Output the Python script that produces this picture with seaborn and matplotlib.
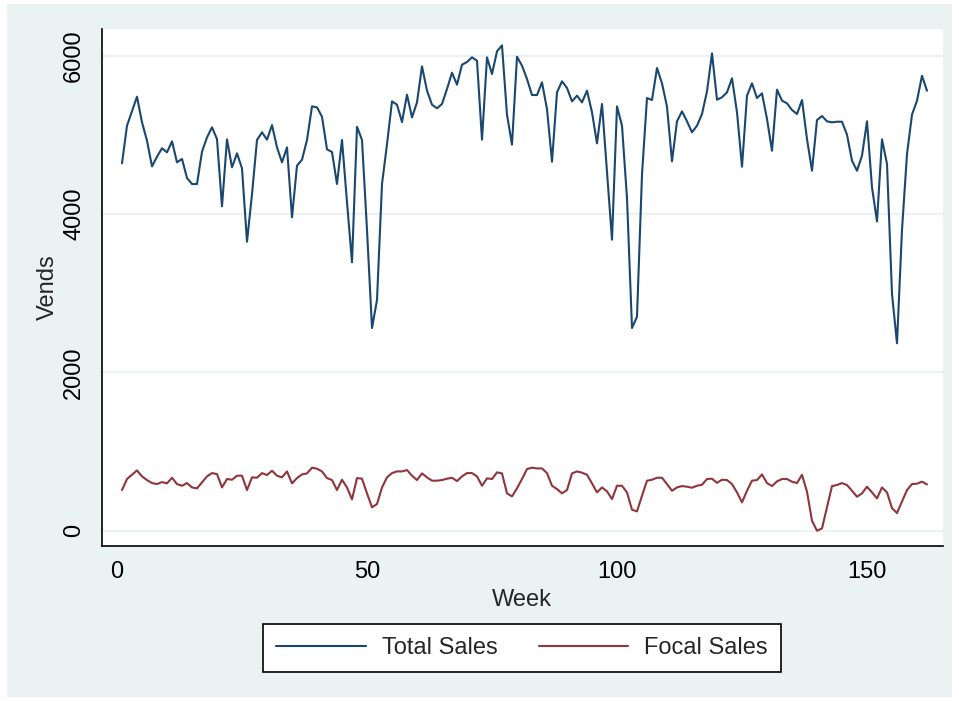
import numpy as np
import pandas as pd
import seaborn as sns
import matplotlib
matplotlib.use("Agg")
import matplotlib.pyplot as plt
from matplotlib.patches import Rectangle

# ---- data ----
total_sales = [
    4640, 5116, 5297, 5482, 5158, 4926, 4602, 4724, 4830, 4779,
    4918, 4653, 4695, 4455, 4379, 4379, 4787, 4968, 5095, 4947,
    4097, 4943, 4590, 4766, 4577, 3650, 4250, 4935, 5032, 4939,
    5124, 4842, 4653, 4842, 3958, 4611, 4686, 4935, 5360, 5347,
    5229, 4817, 4783, 4379, 4935, 4150, 3390, 5103, 4935, 3800,
    2560, 2914, 4379, 4880, 5423, 5381, 5162, 5507, 5221, 5410,
    5865, 5558, 5381, 5335, 5390, 5579, 5785, 5634, 5886, 5920,
    5979, 5937, 4939, 5979, 5768, 6055, 6130, 5255, 4876, 5987,
    5874, 5705, 5503, 5503, 5663, 5326, 4661, 5537, 5676, 5592,
    5423, 5495, 5410, 5558, 5284, 4893, 5390, 4530, 3676, 5360,
    5116, 4200, 2560, 2703, 4500, 5465, 5440, 5844, 5651, 5356,
    4665, 5171, 5297, 5171, 5032, 5116, 5263, 5550, 6029, 5444,
    5474, 5537, 5714, 5284, 4598, 5495, 5651, 5465, 5524, 5200,
    4800, 5571, 5432, 5398, 5314, 5263, 5440, 4947, 4547, 5187,
    5238, 5171, 5158, 5166, 5166, 5002, 4674, 4547, 4737, 5171,
    4337, 3907, 4943, 4632, 2990, 2367, 3800, 4758, 5255, 5432,
    5747, 5557,
]
focal_sales = [
    514, 653, 707, 762, 686, 640, 602, 589, 615, 598,
    669, 589, 568, 602, 547, 535, 610, 686, 728, 716,
    547, 653, 644, 695, 695, 514, 674, 669, 728, 703,
    758, 695, 674, 749, 598, 665, 711, 724, 796, 783,
    749, 665, 640, 514, 644, 547, 396, 665, 657, 472,
    295, 337, 547, 674, 728, 749, 749, 766, 695, 640,
    724, 674, 632, 632, 640, 657, 669, 627, 686, 728,
    728, 686, 568, 661, 653, 737, 724, 472, 434, 535,
    653, 779, 796, 787, 787, 728, 568, 526, 472, 514,
    724, 749, 733, 707, 598, 484, 547, 497, 400, 568,
    568, 484, 265, 244, 442, 632, 644, 669, 669, 589,
    505, 547, 564, 556, 543, 568, 581, 653, 657, 605,
    644, 640, 589, 484, 358, 505, 632, 640, 711, 602,
    564, 623, 653, 653, 619, 602, 707, 493, 126, 0,
    29, 295, 564, 577, 602, 577, 505, 429, 472, 556,
    484, 408, 547, 484, 286, 223, 370, 514, 589, 594,
    620, 585,
]
weeks = list(range(1, len(total_sales) + 1))
series_names = ["Total Sales", "Focal Sales"]
x_ticks = [0, 50, 100, 150]
y_ticks = [0, 2000, 4000, 6000]

df = pd.DataFrame({
    "Week": weeks + weeks,
    "Vends": total_sales + focal_sales,
    "Series": [series_names[0]] * len(weeks) + [series_names[1]] * len(weeks),
})

# ---- style ----
sns.set_style("white")
plt.rcParams["font.family"] = ["Liberation Sans", "DejaVu Sans"]
BG = "#EAF2F3"
NAVY = "#1A476F"
MAROON = "#90353B"
FS = 17

W, H = 959, 701
fig = plt.figure(figsize=(W / 100, H / 100), dpi=100, facecolor="white")
fig.patches.append(Rectangle((7 / W, 1 - 697 / H), (952 - 7) / W, (697 - 4) / H,
                             transform=fig.transFigure, facecolor=BG,
                             edgecolor="none", zorder=-10))

ax = fig.add_axes([101.7 / W, 1 - 546 / H, (943 - 101.7) / W, (546 - 29) / H])
ax.set_facecolor("white")

for yv in y_ticks:
    ax.axhline(yv, color=BG, lw=1.6, zorder=0)

sns.lineplot(data=df, x="Week", y="Vends", hue="Series", hue_order=series_names,
             palette=[NAVY, MAROON], linewidth=1.5, ax=ax, legend=True)

ax.set_xlim(-3.06, 165.2)
ax.set_ylim(-193, 6337)
ax.set_xticks(x_ticks)
ax.set_yticks(y_ticks)
ax.set_yticklabels([str(v) for v in y_ticks], rotation=90, va="center")

for s in ["top", "right"]:
    ax.spines[s].set_visible(False)
for s in ["left", "bottom"]:
    ax.spines[s].set_color("black")
    ax.spines[s].set_linewidth(1.2)

ax.tick_params(axis="both", direction="out", length=7, width=1.1, color="black",
               labelsize=FS, labelcolor="black")
ax.tick_params(axis="x", pad=4)
ax.tick_params(axis="y", pad=5)

ax.set_xlabel("Week", fontsize=FS, labelpad=4)
ax.set_ylabel("Vends", fontsize=FS, labelpad=3)

handles, labels = ax.get_legend_handles_labels()
ax.get_legend().remove()
leg = fig.legend(handles, labels, loc="center", bbox_to_anchor=(522 / W, 1 - 648 / H),
                 ncol=2, fontsize=FS, frameon=True, fancybox=False, framealpha=1,
                 edgecolor="black", facecolor="white", handlelength=3.8,
                 handletextpad=0.68, columnspacing=1.74, borderpad=0.55,
                 borderaxespad=0)
leg.get_frame().set_linewidth(1.2)
for ln in leg.get_lines():
    ln.set_linewidth(1.5)

fig.savefig("out.png", dpi=100, facecolor="white")
